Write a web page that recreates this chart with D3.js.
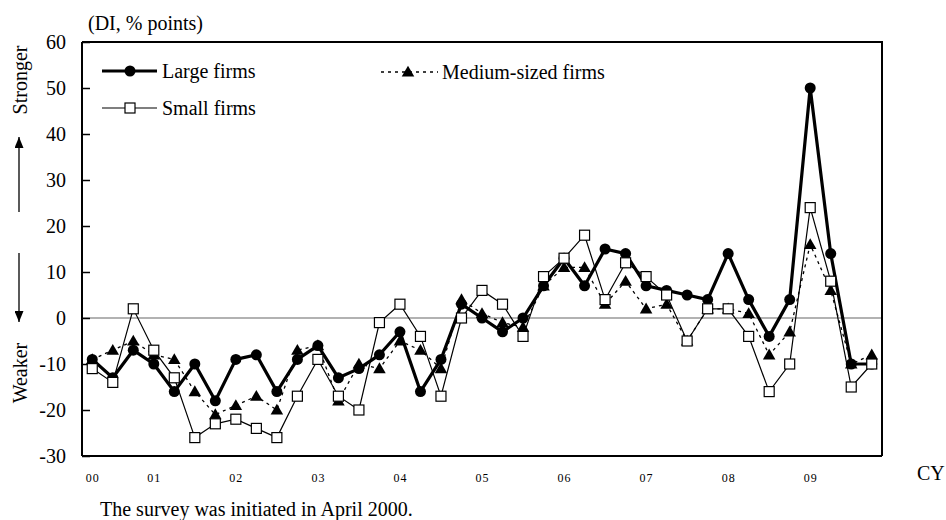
<!DOCTYPE html>
<html><head><meta charset="utf-8">
<script src="https://cdn.jsdelivr.net/npm/d3@7"></script>
<style>
body{margin:0;background:#fff;}
svg{font-family:"Liberation Serif","Times New Roman",serif;}
</style></head>
<body><svg id="chart" width="946" height="520"></svg>
<script>
const quarters = d3.range(39); // 2000Q2 .. 2009Q4
const xTickIndex = [0,3,7,11,15,19,23,27,31,35];
const xTickLabels = ["00","01","02","03","04","05","06","07","08","09"];
const yTicks = [-30,-20,-10,0,10,20,30,40,50,60];
const seriesNames = ["Large firms","Medium-sized firms","Small firms"];
const large  = [-9,-13,-7,-10,-16,-10,-18,-9,-8,-16,-9,-6,-13,-11,-8,-3,-16,-9,3,0,-3,0,7,13,7,15,14,7,6,5,4,14,4,-4,4,50,14,-10,-10];
const medium = [-9,-7,-5,-8,-9,-16,-21,-19,-17,-20,-7,-6,-18,-10,-11,-5,-7,-11,4,1,-1,-2,7,11,11,3,8,2,3,-5,2,2,1,-8,-3,16,6,-10,-8];
const small  = [-11,-14,2,-7,-13,-26,-23,-22,-24,-26,-17,-9,-17,-20,-1,3,-4,-17,0,6,3,-4,9,13,18,4,12,9,5,-5,2,2,-4,-16,-10,24,8,-15,-10];

const svg = d3.select("#chart");
const L=82,R=882,T=42,B=456;
const x = d3.scaleLinear().domain([-0.5,38.5]).range([L,R]);
const y = d3.scaleLinear().domain([-30,60]).range([B,T]);

// zero line
svg.append("line").attr("x1",L).attr("x2",R).attr("y1",y(0)).attr("y2",y(0))
  .attr("stroke","#666").attr("stroke-width",1.2);

// frame top/right
svg.append("path").attr("d",`M${L},${T}H${R}V${B}`).attr("fill","none").attr("stroke","#000").attr("stroke-width",2);

// y axis
const ya = svg.append("g").attr("transform",`translate(${L},0)`)
  .call(d3.axisLeft(y).tickValues(yTicks).tickSize(-8).tickPadding(16).tickFormat(d=>String(d)));
ya.select(".domain").attr("stroke-width",2).attr("d",`M0,${T}V${B}`);
ya.selectAll(".tick line").attr("stroke-width",1.5);
ya.selectAll("text").attr("font-size",20).attr("font-family","Liberation Serif, Times New Roman, serif").attr("fill","#000");

// x axis
const xa = svg.append("g").attr("transform",`translate(0,${B})`)
  .call(d3.axisBottom(x).tickValues(xTickIndex).tickSize(0).tickPadding(17)
    .tickFormat((d,i)=>xTickLabels[i]));
xa.select(".domain").attr("stroke-width",2).attr("d",`M${L},0H${R}`);
xa.selectAll("text").attr("font-size",12).attr("letter-spacing","1px").attr("font-family","Liberation Serif, Times New Roman, serif").attr("fill","#000");

// lines
const line = d3.line().x((d,i)=>x(quarters[i])).y(d=>y(d));
svg.append("path").datum(large).attr("d",line).attr("fill","none").attr("stroke","#000").attr("stroke-width",3.2).attr("stroke-linejoin","round");
svg.append("g").selectAll("circle").data(large).join("circle")
  .attr("cx",(d,i)=>x(quarters[i])).attr("cy",d=>y(d)).attr("r",5.5).attr("fill","#000");

svg.append("path").datum(medium).attr("d",line).attr("fill","none").attr("stroke","#000").attr("stroke-width",1.3).attr("stroke-dasharray","3,4");
const tri = d3.symbol().type(d3.symbolTriangle).size(68);
svg.append("g").selectAll("path").data(medium).join("path")
  .attr("d",tri).attr("transform",(d,i)=>`translate(${x(quarters[i])},${y(d)+1})`).attr("fill","#000");

svg.append("path").datum(small).attr("d",line).attr("fill","none").attr("stroke","#000").attr("stroke-width",1.2);
svg.append("g").selectAll("rect").data(small).join("rect")
  .attr("x",(d,i)=>x(quarters[i])-5).attr("y",d=>y(d)-5).attr("width",10).attr("height",10)
  .attr("fill","#fff").attr("stroke","#000").attr("stroke-width",1.2);

// legend
const lg = svg.append("g").attr("font-size",20);
lg.append("line").attr("x1",102).attr("x2",157).attr("y1",71).attr("y2",71).attr("stroke","#000").attr("stroke-width",3.2);
lg.append("circle").attr("cx",130).attr("cy",71).attr("r",5.5);
lg.append("text").attr("x",162).attr("y",78).text(seriesNames[0]);
lg.append("line").attr("x1",102).attr("x2",157).attr("y1",108).attr("y2",108).attr("stroke","#000").attr("stroke-width",1.2);
lg.append("rect").attr("x",125).attr("y",103).attr("width",10).attr("height",10).attr("fill","#fff").attr("stroke","#000").attr("stroke-width",1.2);
lg.append("text").attr("x",162).attr("y",115).text(seriesNames[2]);
lg.append("line").attr("x1",381).attr("x2",438).attr("y1",72).attr("y2",72).attr("stroke","#000").attr("stroke-width",1.3).attr("stroke-dasharray","3,4");
lg.append("path").attr("d",tri).attr("transform","translate(408,73)");
lg.append("text").attr("x",442).attr("y",79).text(seriesNames[1]);

// texts
svg.append("text").attr("x",88).attr("y",30).attr("font-size",20).text("(DI, % points)");
svg.append("text").attr("x",917).attr("y",480).attr("font-size",20).text("CY");
svg.append("text").attr("x",100).attr("y",516).attr("font-size",20).text("The survey was initiated in April 2000.");
svg.append("text").attr("transform","translate(27,80) rotate(-90)").attr("text-anchor","middle").attr("font-size",20).text("Stronger");
svg.append("text").attr("transform","translate(27,373) rotate(-90)").attr("text-anchor","middle").attr("font-size",20).text("Weaker");

// arrows
const defs = svg.append("defs");
defs.append("marker").attr("id","ah").attr("viewBox","0 0 10 10").attr("refX",10).attr("refY",5)
  .attr("markerWidth",11).attr("markerHeight",9).attr("markerUnits","userSpaceOnUse").attr("orient","auto")
  .attr("preserveAspectRatio","none")
  .append("path").attr("d","M0,0L10,5L0,10Z").attr("fill","#000");
svg.append("line").attr("x1",19).attr("x2",19).attr("y1",212).attr("y2",137).attr("stroke","#000").attr("stroke-width",1.3).attr("marker-end","url(#ah)");
svg.append("line").attr("x1",19).attr("x2",19).attr("y1",253).attr("y2",322).attr("stroke","#000").attr("stroke-width",1.3).attr("marker-end","url(#ah)");
</script></body></html>
